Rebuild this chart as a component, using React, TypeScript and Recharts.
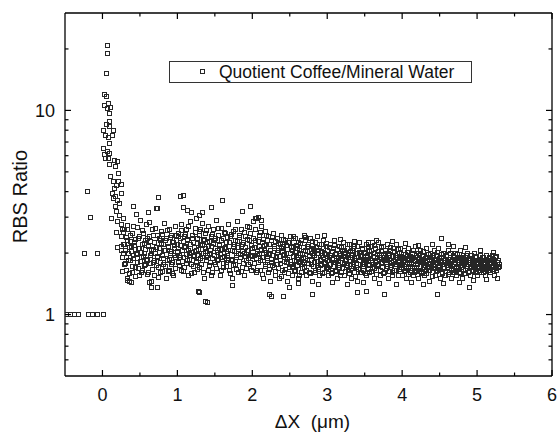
import React from "react";
import {
  ScatterChart,
  Scatter,
  XAxis,
  YAxis,
  ReferenceLine,
} from "recharts";

// chart box and plot frame
const W = 558;
const H = 432;
const PLOT_TOP = 13;
const PLOT_RIGHT = 552;
const FONT = "'Liberation Sans', Arial, Helvetica, sans-serif";
const INK = "#000";
const MARK = "#262626";

// axis ticks
const xTicks = [0, 0.5, 1, 1.5, 2, 2.5, 3, 3.5, 4, 4.5, 5, 5.5, 6];
const xMajor = [0, 1, 2, 3, 4, 5, 6];
const yTicks = [0.6, 0.7, 0.8, 0.9, 1, 2, 3, 4, 5, 6, 7, 8, 9, 10, 20];
const yMajor = [1, 10];

// points left of the interface
const leadPoints = [
  [-0.48, 1], [-0.42, 1], [-0.37, 1], [-0.32, 1],
  [-0.19, 1], [-0.13, 1], [-0.06, 1], [0.01, 1],
  [-0.2, 4.0], [-0.16, 3.0], [-0.24, 2.0], [-0.06, 2.0],
];

// the peak just after x = 0
const peakPoints = [
  [0.067, 20.8], [0.063, 19.0], [0.053, 15.2], [0.023, 12.0], [0.058, 11.7],
  [0.08, 10.8], [0.027, 10.6], [0.11, 10.3], [0.07, 10.2], [0.09, 9.7],
  [0.1, 8.8], [0.06, 8.5], [0.147, 8.0], [0.02, 8.0], [0.09, 8.3],
  [0.04, 7.5], [0.075, 7.4], [0.135, 7.5], [0.093, 6.85], [0.013, 6.5],
  [0.065, 6.3], [0.09, 6.15], [0.03, 6.1], [0.085, 5.8], [0.045, 5.8],
  [0.16, 5.7], [0.18, 5.3], [0.2, 5.6], [0.1, 5.45], [0.17, 5.3],
  [0.215, 4.9], [0.11, 4.75], [0.147, 4.5], [0.22, 4.5], [0.25, 4.35],
  [0.19, 4.3], [0.16, 4.15], [0.13, 3.9], [0.18, 3.8], [0.26, 3.9],
  [0.15, 3.7], [0.2, 3.6], [0.23, 3.5], [0.18, 3.4], [0.125, 2.94],
  [0.19, 3.2], [0.23, 3.05], [0.28, 2.95], [0.2, 2.85], [0.26, 2.75],
  [0.19, 2.53], [0.27, 2.6], [0.33, 2.72], [0.205, 2.14], [0.25, 2.15],
];

// plateau, 0.26 - 0.99
const bandA = [
  [0.26, 2.4], [0.27, 1.9], [0.28, 2.2], [0.29, 1.75], [0.3, 2.6], [0.31, 2.05],
  [0.32, 1.65], [0.33, 2.3], [0.34, 1.5], [0.35, 2.0], [0.36, 1.45], [0.37, 2.45],
  [0.38, 1.85], [0.39, 2.15], [0.4, 1.6], [0.41, 2.7], [0.42, 1.95], [0.43, 2.25],
  [0.44, 1.7], [0.45, 3.1], [0.46, 2.0], [0.47, 1.8], [0.48, 2.35], [0.49, 1.55],
  [0.5, 2.1], [0.51, 2.9], [0.52, 1.9], [0.53, 2.2], [0.54, 1.65], [0.55, 2.5],
  [0.56, 2.0], [0.57, 1.75], [0.58, 2.3], [0.59, 2.75], [0.6, 1.85], [0.61, 2.15],
  [0.62, 1.6], [0.63, 2.4], [0.64, 1.95], [0.65, 1.45], [0.66, 2.05], [0.67, 2.6],
  [0.68, 1.8], [0.69, 2.25], [0.7, 1.55], [0.71, 2.0], [0.72, 3.3], [0.73, 1.9],
  [0.74, 2.45], [0.75, 1.7], [0.76, 2.1], [0.77, 2.3], [0.78, 1.6], [0.79, 2.55],
  [0.8, 1.95], [0.81, 2.2], [0.82, 1.75], [0.83, 2.8], [0.84, 2.05], [0.85, 1.5],
  [0.86, 2.35], [0.87, 1.85], [0.88, 2.15], [0.89, 2.6], [0.9, 1.65], [0.91, 2.0],
  [0.92, 2.45], [0.93, 1.8], [0.94, 2.25], [0.95, 1.55], [0.96, 2.1], [0.97, 2.7],
  [0.98, 1.9], [0.99, 2.3],
];
const bandA2 = [
  [0.255, 2.07], [0.265, 1.63], [0.275, 2.53], [0.285, 1.98], [0.295, 2.21], [0.305, 1.77],
  [0.315, 2.38], [0.325, 1.91], [0.335, 2.62], [0.345, 1.83], [0.355, 2.13], [0.365, 1.58],
  [0.375, 2.27], [0.385, 2.04], [0.395, 1.72], [0.405, 2.49], [0.415, 1.88], [0.425, 2.17],
  [0.435, 1.53], [0.445, 2.33], [0.455, 1.96], [0.465, 2.68], [0.475, 1.69], [0.485, 2.11],
  [0.495, 2.42], [0.505, 1.81], [0.515, 2.02], [0.525, 1.61], [0.535, 2.57], [0.545, 1.93],
  [0.555, 2.24], [0.565, 1.73], [0.575, 2.08], [0.585, 1.87], [0.595, 2.36], [0.605, 1.57],
  [0.615, 2.19], [0.625, 2.83], [0.635, 1.78], [0.645, 2.29], [0.655, 1.99], [0.665, 1.67],
  [0.675, 2.43], [0.685, 2.09], [0.695, 1.84], [0.705, 2.64], [0.715, 1.74], [0.725, 2.14],
  [0.735, 1.92], [0.745, 1.52], [0.755, 2.37], [0.765, 2.01], [0.775, 1.79], [0.785, 2.22],
  [0.795, 1.63], [0.805, 2.47], [0.815, 1.89], [0.825, 2.06], [0.835, 1.71], [0.845, 2.31],
  [0.855, 1.97], [0.865, 2.58], [0.875, 1.62], [0.885, 2.12], [0.895, 1.86], [0.905, 2.39],
  [0.915, 1.76], [0.925, 2.03], [0.935, 1.58], [0.945, 2.26], [0.955, 1.94], [0.965, 2.18],
  [0.975, 1.68], [0.985, 2.44], [0.995, 2.01],
];

// 1.00 - 1.99
const bandB = [
  [1.0, 2.2], [1.01, 1.8], [1.02, 2.5], [1.03, 1.95], [1.04, 2.35], [1.05, 1.65],
  [1.06, 2.75], [1.07, 2.05], [1.08, 1.9], [1.09, 2.4], [1.1, 1.7], [1.11, 2.15],
  [1.12, 2.6], [1.13, 1.85], [1.14, 2.3], [1.15, 1.55], [1.16, 2.0], [1.17, 2.85],
  [1.18, 2.1], [1.19, 1.75], [1.2, 2.45], [1.21, 1.95], [1.22, 2.25], [1.23, 1.6],
  [1.24, 2.65], [1.25, 2.05], [1.26, 1.8], [1.27, 2.35], [1.28, 1.95], [1.29, 2.55],
  [1.3, 1.7], [1.31, 2.2], [1.32, 2.0], [1.33, 2.8], [1.34, 1.85], [1.35, 2.3],
  [1.36, 1.5], [1.37, 2.1], [1.38, 2.5], [1.39, 1.9], [1.4, 2.25], [1.41, 1.65],
  [1.42, 2.7], [1.43, 2.0], [1.44, 1.8], [1.45, 2.4], [1.46, 2.15], [1.47, 1.6],
  [1.48, 2.6], [1.49, 1.95], [1.5, 2.3], [1.51, 1.75], [1.52, 2.9], [1.53, 2.05],
  [1.54, 1.85], [1.55, 2.45], [1.56, 2.2], [1.57, 1.55], [1.58, 2.0], [1.59, 2.65],
  [1.6, 1.9], [1.61, 2.35], [1.62, 1.7], [1.63, 2.1], [1.64, 2.5], [1.65, 1.8],
  [1.66, 2.25], [1.67, 1.95], [1.68, 2.75], [1.69, 1.65], [1.7, 2.15], [1.71, 2.4],
  [1.72, 1.85], [1.73, 2.05], [1.74, 1.5], [1.75, 2.55], [1.76, 2.2], [1.77, 1.75],
  [1.78, 2.3], [1.79, 1.95], [1.8, 2.85], [1.81, 2.0], [1.82, 1.6], [1.83, 2.45],
  [1.84, 1.9], [1.85, 2.15], [1.86, 2.6], [1.87, 1.7], [1.88, 2.25], [1.89, 2.0],
  [1.9, 1.55], [1.91, 2.4], [1.92, 1.85], [1.93, 2.7], [1.94, 2.05], [1.95, 1.75],
  [1.96, 2.3], [1.97, 1.95], [1.98, 2.5], [1.99, 1.65],
];
const bandB2 = [
  [1.005, 2.03], [1.015, 2.41], [1.025, 1.74], [1.035, 2.17], [1.045, 1.91], [1.055, 2.58],
  [1.065, 1.82], [1.075, 2.27], [1.085, 1.63], [1.095, 2.12], [1.105, 2.46], [1.115, 1.96],
  [1.125, 1.77], [1.135, 2.33], [1.145, 2.07], [1.155, 2.69], [1.165, 1.87], [1.175, 2.21],
  [1.185, 1.58], [1.195, 2.01], [1.205, 2.37], [1.215, 1.72], [1.225, 2.14], [1.235, 1.93],
  [1.245, 2.52], [1.255, 1.81], [1.265, 2.24], [1.275, 1.67], [1.285, 2.09], [1.295, 2.43],
  [1.305, 1.89], [1.315, 2.62], [1.325, 1.76], [1.335, 2.18], [1.345, 1.98], [1.355, 1.61],
  [1.365, 2.34], [1.375, 2.04], [1.385, 1.84], [1.395, 2.57], [1.405, 1.94], [1.415, 2.16],
  [1.425, 1.73], [1.435, 2.29], [1.445, 2.06], [1.455, 1.56], [1.465, 2.48], [1.475, 1.88],
  [1.485, 2.23], [1.495, 1.79], [1.505, 2.11], [1.515, 2.36], [1.525, 1.69], [1.535, 2.02],
  [1.545, 2.64], [1.555, 1.86], [1.565, 2.19], [1.575, 1.97], [1.585, 1.64], [1.595, 2.31],
  [1.605, 2.08], [1.615, 1.78], [1.625, 2.53], [1.635, 1.92], [1.645, 2.13], [1.655, 1.71],
  [1.665, 2.39], [1.675, 1.99], [1.685, 1.83], [1.695, 2.26], [1.705, 1.59], [1.715, 2.07],
  [1.725, 2.47], [1.735, 1.87], [1.745, 2.16], [1.755, 1.74], [1.765, 2.03], [1.775, 2.61],
  [1.785, 1.91], [1.795, 1.66], [1.805, 2.28], [1.815, 2.12], [1.825, 1.81], [1.835, 2.38],
  [1.845, 1.97], [1.855, 1.62], [1.865, 2.21], [1.875, 2.04], [1.885, 1.77], [1.895, 2.51],
  [1.905, 1.93], [1.915, 2.14], [1.925, 1.68], [1.935, 2.32], [1.945, 1.88], [1.955, 2.06],
  [1.965, 2.67], [1.975, 1.79], [1.985, 2.18], [1.995, 1.94],
];

// 2.00 - 2.99
const bandC = [
  [2.0, 2.1], [2.01, 1.7], [2.02, 2.85], [2.03, 1.95], [2.04, 2.3], [2.05, 1.6],
  [2.06, 2.95], [2.07, 2.0], [2.08, 1.8], [2.09, 2.45], [2.1, 2.15], [2.11, 1.65],
  [2.12, 2.7], [2.13, 1.9], [2.14, 2.25], [2.15, 1.5], [2.16, 2.05], [2.17, 2.55],
  [2.18, 1.75], [2.19, 2.2], [2.2, 1.85], [2.21, 2.4], [2.22, 1.6], [2.23, 2.0],
  [2.24, 1.45], [2.25, 2.3], [2.26, 1.8], [2.27, 1.95], [2.28, 2.5], [2.29, 1.7],
  [2.3, 2.1], [2.31, 1.55], [2.32, 1.9], [2.33, 2.35], [2.34, 1.75], [2.35, 2.05],
  [2.36, 1.5], [2.37, 2.2], [2.38, 1.85], [2.39, 2.45], [2.4, 1.65], [2.41, 1.95],
  [2.42, 2.15], [2.43, 1.6], [2.44, 2.3], [2.45, 1.8], [2.46, 2.0], [2.47, 1.45],
  [2.48, 2.25], [2.49, 1.7], [2.5, 1.9], [2.51, 2.4], [2.52, 1.75], [2.53, 2.05],
  [2.54, 1.55], [2.55, 2.15], [2.56, 1.85], [2.57, 2.35], [2.58, 1.65], [2.59, 1.95],
  [2.6, 2.1], [2.61, 1.5], [2.62, 2.25], [2.63, 1.8], [2.64, 2.0], [2.65, 1.6],
  [2.66, 2.3], [2.67, 1.75], [2.68, 1.9], [2.69, 2.45], [2.7, 1.7], [2.71, 2.05],
  [2.72, 1.55], [2.73, 2.15], [2.74, 1.85], [2.75, 2.2], [2.76, 1.6], [2.77, 1.95],
  [2.78, 2.35], [2.79, 1.75], [2.8, 2.0], [2.81, 1.45], [2.82, 2.1], [2.83, 1.8],
  [2.84, 2.25], [2.85, 1.65], [2.86, 1.9], [2.87, 2.4], [2.88, 1.7], [2.89, 2.05],
  [2.9, 1.55], [2.91, 1.85], [2.92, 2.2], [2.93, 1.75], [2.94, 1.95], [2.95, 2.3],
  [2.96, 1.6], [2.97, 2.0], [2.98, 1.8], [2.99, 2.15],
];
const bandC2 = [
  [2.005, 1.93], [2.015, 2.37], [2.025, 1.77], [2.035, 2.14], [2.045, 2.62], [2.055, 1.88],
  [2.065, 2.03], [2.075, 1.64], [2.085, 2.28], [2.095, 1.96], [2.105, 2.51], [2.115, 1.83],
  [2.125, 2.09], [2.135, 1.57], [2.145, 2.33], [2.155, 1.91], [2.165, 2.17], [2.175, 1.72],
  [2.185, 2.02], [2.195, 2.43], [2.205, 1.79], [2.215, 1.97], [2.225, 2.21], [2.235, 1.66],
  [2.245, 2.06], [2.255, 1.86], [2.265, 2.38], [2.275, 1.73], [2.285, 1.94], [2.295, 2.16],
  [2.305, 1.62], [2.315, 2.27], [2.325, 1.84], [2.335, 2.01], [2.345, 1.69], [2.355, 2.22],
  [2.365, 1.92], [2.375, 1.78], [2.385, 2.11], [2.395, 1.54], [2.405, 2.04], [2.415, 2.32],
  [2.425, 1.81], [2.435, 1.96], [2.445, 1.67], [2.455, 2.18], [2.465, 1.87], [2.475, 2.08],
  [2.485, 1.59], [2.495, 2.26], [2.505, 1.76], [2.515, 1.99], [2.525, 2.13], [2.535, 1.71],
  [2.545, 1.93], [2.555, 2.36], [2.565, 1.63], [2.575, 2.02], [2.585, 1.82], [2.595, 2.19],
  [2.605, 1.74], [2.615, 1.91], [2.625, 2.07], [2.635, 1.56], [2.645, 2.24], [2.655, 1.86],
  [2.665, 1.97], [2.675, 1.68], [2.685, 2.12], [2.695, 1.79], [2.705, 2.31], [2.715, 1.89],
  [2.725, 1.64], [2.735, 2.03], [2.745, 1.77], [2.755, 2.16], [2.765, 1.92], [2.775, 1.58],
  [2.785, 2.09], [2.795, 1.83], [2.805, 2.27], [2.815, 1.72], [2.825, 1.94], [2.835, 2.06],
  [2.845, 1.61], [2.855, 2.14], [2.865, 1.81], [2.875, 1.98], [2.885, 1.67], [2.895, 2.21],
  [2.905, 1.87], [2.915, 1.74], [2.925, 2.04], [2.935, 1.59], [2.945, 1.91], [2.955, 2.11],
  [2.965, 1.78], [2.975, 1.96], [2.985, 1.69], [2.995, 2.23],
];

// 3.00 - 3.99
const bandD = [
  [3.0, 1.7], [3.01, 2.05], [3.02, 1.55], [3.03, 1.9], [3.04, 2.2], [3.05, 1.75],
  [3.06, 1.95], [3.07, 1.6], [3.08, 2.1], [3.09, 1.8], [3.1, 2.3], [3.11, 1.65],
  [3.12, 1.85], [3.13, 2.0], [3.14, 1.5], [3.15, 1.9], [3.16, 2.15], [3.17, 1.7],
  [3.18, 1.95], [3.19, 1.6], [3.2, 2.05], [3.21, 1.8], [3.22, 2.25], [3.23, 1.55],
  [3.24, 1.85], [3.25, 2.0], [3.26, 1.7], [3.27, 2.1], [3.28, 1.65], [3.29, 1.9],
  [3.3, 2.2], [3.31, 1.75], [3.32, 1.95], [3.33, 1.5], [3.34, 2.05], [3.35, 1.8],
  [3.36, 1.6], [3.37, 2.15], [3.38, 1.85], [3.39, 1.7], [3.4, 2.0], [3.41, 1.45],
  [3.42, 1.9], [3.43, 2.25], [3.44, 1.75], [3.45, 1.95], [3.46, 1.6], [3.47, 2.1],
  [3.48, 1.8], [3.49, 1.65], [3.5, 2.0], [3.51, 1.85], [3.52, 2.2], [3.53, 1.55],
  [3.54, 1.9], [3.55, 1.75], [3.56, 2.05], [3.57, 1.6], [3.58, 1.95], [3.59, 2.15],
  [3.6, 1.7], [3.61, 1.85], [3.62, 2.0], [3.63, 1.5], [3.64, 1.8], [3.65, 2.1],
  [3.66, 1.65], [3.67, 1.9], [3.68, 2.25], [3.69, 1.75], [3.7, 1.95], [3.71, 1.55],
  [3.72, 2.05], [3.73, 1.8], [3.74, 1.7], [3.75, 2.15], [3.76, 1.6], [3.77, 1.9],
  [3.78, 2.0], [3.79, 1.75], [3.8, 1.85], [3.81, 2.2], [3.82, 1.5], [3.83, 1.95],
  [3.84, 1.7], [3.85, 2.05], [3.86, 1.8], [3.87, 1.6], [3.88, 2.1], [3.89, 1.85],
  [3.9, 1.65], [3.91, 1.95], [3.92, 2.2], [3.93, 1.75], [3.94, 1.9], [3.95, 1.55],
  [3.96, 2.0], [3.97, 1.8], [3.98, 2.1], [3.99, 1.7],
];
const bandD2 = [
  [3.005, 1.83], [3.015, 1.66], [3.025, 2.12], [3.035, 1.76], [3.045, 1.94], [3.055, 1.58],
  [3.065, 2.03], [3.075, 1.87], [3.085, 1.71], [3.095, 2.17], [3.105, 1.79], [3.115, 1.97],
  [3.125, 1.62], [3.135, 2.08], [3.145, 1.84], [3.155, 1.73], [3.165, 1.99], [3.175, 1.56],
  [3.185, 1.89], [3.195, 2.14], [3.205, 1.68], [3.215, 1.93], [3.225, 1.77], [3.235, 2.06],
  [3.245, 1.63], [3.255, 1.86], [3.265, 2.21], [3.275, 1.74], [3.285, 1.96], [3.295, 1.59],
  [3.305, 1.82], [3.315, 2.04], [3.325, 1.69], [3.335, 1.91], [3.345, 2.11], [3.355, 1.72],
  [3.365, 1.88], [3.375, 1.54], [3.385, 1.98], [3.395, 1.78], [3.405, 2.16], [3.415, 1.67],
  [3.425, 1.85], [3.435, 2.02], [3.445, 1.61], [3.455, 1.93], [3.465, 1.76], [3.475, 2.09],
  [3.485, 1.71], [3.495, 1.87], [3.505, 1.58], [3.515, 2.01], [3.525, 1.81], [3.535, 1.95],
  [3.545, 1.66], [3.555, 2.13], [3.565, 1.74], [3.575, 1.89], [3.585, 1.63], [3.595, 2.06],
  [3.605, 1.79], [3.615, 1.92], [3.625, 1.69], [3.635, 2.18], [3.645, 1.84], [3.655, 1.57],
  [3.665, 1.97], [3.675, 1.73], [3.685, 2.04], [3.695, 1.86], [3.705, 1.64], [3.715, 1.91],
  [3.725, 2.12], [3.735, 1.77], [3.745, 1.94], [3.755, 1.59], [3.765, 1.83], [3.775, 2.07],
  [3.785, 1.68], [3.795, 1.88], [3.805, 1.72], [3.815, 1.99], [3.825, 1.62], [3.835, 1.86],
  [3.845, 2.14], [3.855, 1.74], [3.865, 1.93], [3.875, 1.56], [3.885, 1.81], [3.895, 2.03],
  [3.905, 1.71], [3.915, 1.87], [3.925, 1.64], [3.935, 1.98], [3.945, 1.79], [3.955, 2.09],
  [3.965, 1.67], [3.975, 1.92], [3.985, 1.76], [3.995, 1.89],
];

// 4.00 - 5.30
const bandE = [
  [4.0, 1.9], [4.01, 1.55], [4.02, 1.8], [4.03, 2.05], [4.04, 1.65], [4.05, 1.85],
  [4.06, 1.5], [4.07, 1.95], [4.08, 1.7], [4.09, 2.1], [4.1, 1.75], [4.11, 1.6],
  [4.12, 1.9], [4.13, 1.8], [4.14, 2.0], [4.15, 1.55], [4.16, 1.85], [4.17, 1.7],
  [4.18, 2.15], [4.19, 1.65], [4.2, 1.9], [4.21, 1.75], [4.22, 1.5], [4.23, 1.95],
  [4.24, 1.8], [4.25, 2.05], [4.26, 1.6], [4.27, 1.85], [4.28, 1.7], [4.29, 1.95],
  [4.3, 1.55], [4.31, 1.8], [4.32, 2.1], [4.33, 1.65], [4.34, 1.9], [4.35, 1.75],
  [4.36, 1.45], [4.37, 1.85], [4.38, 2.0], [4.39, 1.7], [4.4, 1.6], [4.41, 1.9],
  [4.42, 1.8], [4.43, 2.05], [4.44, 1.55], [4.45, 1.75], [4.46, 1.95], [4.47, 1.65],
  [4.48, 1.85], [4.49, 2.1], [4.5, 1.7], [4.51, 1.5], [4.52, 1.9], [4.53, 1.8],
  [4.54, 1.6], [4.55, 2.0], [4.56, 1.75], [4.57, 1.85], [4.58, 1.55], [4.59, 1.95],
  [4.6, 1.7], [4.61, 1.8], [4.62, 2.05], [4.63, 1.6], [4.64, 1.9], [4.65, 1.75],
  [4.66, 1.5], [4.67, 1.85], [4.68, 1.95], [4.69, 1.65], [4.7, 1.8], [4.71, 2.0],
  [4.72, 1.7], [4.73, 1.55], [4.74, 1.9], [4.75, 1.75], [4.76, 1.85], [4.77, 1.6],
  [4.78, 2.05], [4.79, 1.7], [4.8, 1.8], [4.81, 1.5], [4.82, 1.95], [4.83, 1.75],
  [4.84, 1.65], [4.85, 1.9], [4.86, 1.8], [4.87, 2.0], [4.88, 1.6], [4.89, 1.75],
  [4.9, 1.85], [4.91, 1.55], [4.92, 1.95], [4.93, 1.7], [4.94, 1.8], [4.95, 1.65],
  [4.96, 2.0], [4.97, 1.75], [4.98, 1.6], [4.99, 1.9], [5.0, 1.8], [5.01, 1.55],
  [5.02, 1.85], [5.03, 1.7], [5.04, 1.95], [5.05, 1.65], [5.06, 1.8], [5.07, 1.9],
  [5.08, 1.6], [5.09, 1.75], [5.1, 1.85], [5.11, 1.55], [5.12, 1.95], [5.13, 1.7],
  [5.14, 1.8], [5.15, 1.65], [5.16, 1.9], [5.17, 1.75], [5.18, 1.6], [5.19, 1.85],
  [5.2, 1.7], [5.21, 1.95], [5.22, 1.8], [5.23, 1.55], [5.24, 1.75], [5.25, 1.9],
  [5.26, 1.65], [5.27, 1.8], [5.28, 1.7], [5.29, 1.85], [5.3, 1.75],
];
const bandE2 = [
  [4.005, 1.73], [4.015, 1.91], [4.025, 1.62], [4.035, 1.84], [4.045, 1.97], [4.055, 1.68],
  [4.065, 1.79], [4.075, 2.02], [4.085, 1.57], [4.095, 1.86], [4.105, 1.93], [4.115, 1.71],
  [4.125, 1.64], [4.135, 1.88], [4.145, 1.76], [4.155, 2.07], [4.165, 1.61], [4.175, 1.82],
  [4.185, 1.94], [4.195, 1.69], [4.205, 1.78], [4.215, 1.99], [4.225, 1.63], [4.235, 1.87],
  [4.245, 1.72], [4.255, 1.58], [4.265, 1.92], [4.275, 1.81], [4.285, 2.04], [4.295, 1.67],
  [4.305, 1.74], [4.315, 1.89], [4.325, 1.59], [4.335, 1.83], [4.345, 1.96], [4.355, 1.71],
  [4.365, 1.64], [4.375, 1.91], [4.385, 1.77], [4.395, 1.86], [4.405, 1.53], [4.415, 1.73],
  [4.425, 1.95], [4.435, 1.68], [4.445, 1.84], [4.455, 1.62], [4.465, 1.79], [4.475, 2.01],
  [4.485, 1.72], [4.495, 1.88], [4.505, 1.66], [4.515, 1.81], [4.525, 1.97], [4.535, 1.58],
  [4.545, 1.76], [4.555, 1.89], [4.565, 1.69], [4.575, 1.83], [4.585, 1.63], [4.595, 1.92],
  [4.605, 1.74], [4.615, 1.86], [4.625, 1.57], [4.635, 1.78], [4.645, 1.98], [4.655, 1.67],
  [4.665, 1.82], [4.675, 1.71], [4.685, 1.93], [4.695, 1.61], [4.705, 1.76], [4.715, 1.87],
  [4.725, 1.64], [4.735, 1.84], [4.745, 1.96], [4.755, 1.69], [4.765, 1.79], [4.775, 1.58],
  [4.785, 1.88], [4.795, 1.73], [4.805, 1.91], [4.815, 1.66], [4.825, 1.77], [4.835, 1.85],
  [4.845, 1.59], [4.855, 1.72], [4.865, 1.94], [4.875, 1.68], [4.885, 1.83], [4.895, 1.63],
  [4.905, 1.79], [4.915, 1.89], [4.925, 1.71], [4.935, 1.62], [4.945, 1.86], [4.955, 1.74],
  [4.965, 1.81], [4.975, 1.92], [4.985, 1.67], [4.995, 1.77], [5.005, 1.84], [5.015, 1.69],
  [5.025, 1.76], [5.035, 1.61], [5.045, 1.87], [5.055, 1.73], [5.065, 1.82], [5.075, 1.66],
  [5.085, 1.91], [5.095, 1.71], [5.105, 1.79], [5.115, 1.63], [5.125, 1.86], [5.135, 1.74],
  [5.145, 1.68], [5.155, 1.83], [5.165, 1.77], [5.175, 1.89], [5.185, 1.64], [5.195, 1.78],
  [5.205, 1.72], [5.215, 1.86], [5.225, 1.67], [5.235, 1.81], [5.245, 1.73], [5.255, 1.92],
  [5.265, 1.69], [5.275, 1.76], [5.285, 1.83], [5.295, 1.71],
];

// ragged upper and lower edge of the band past x = 2.5
const bandEdges = [
  [2.55, 2.42], [2.62, 1.42], [2.71, 2.38], [2.88, 1.4], [2.97, 2.45], [3.07, 1.43],
  [3.18, 2.32], [3.27, 1.41], [3.36, 2.28], [3.48, 1.44], [3.66, 2.3], [3.7, 1.42],
  [3.87, 2.27], [3.92, 1.4], [4.04, 2.22], [4.12, 1.43], [4.22, 2.18], [4.29, 1.41],
  [4.41, 2.2], [4.55, 1.42], [4.68, 2.16], [4.76, 1.44], [4.84, 2.14], [4.95, 1.46],
  [5.05, 2.05], [5.13, 1.48], [5.22, 2.02], [5.27, 1.5],
];

// scattered points above and below the band
const outliers = [
  [0.42, 3.4], [0.61, 3.15], [0.73, 3.3], [0.75, 3.75], [1.04, 3.8], [1.08, 3.85],
  [1.08, 3.35], [1.14, 3.25], [1.19, 3.15], [1.25, 2.97], [1.29, 3.05], [1.33, 3.15],
  [1.45, 3.35], [1.6, 3.6], [1.87, 3.2], [1.98, 3.4], [2.04, 2.95], [2.08, 3.0],
  [2.12, 2.9], [3.55, 2.25], [3.6, 2.25], [4.52, 2.36], [4.62, 2.2],
  [0.34, 1.47], [0.39, 1.44], [0.63, 1.44], [0.66, 1.36], [0.73, 1.36], [1.28, 1.29],
  [1.29, 1.28], [1.38, 1.16], [1.4, 1.14], [1.73, 1.39], [2.23, 1.25], [2.25, 1.22],
  [2.41, 1.22], [2.5, 1.36], [2.8, 1.25], [3.41, 1.28], [3.53, 1.3], [3.76, 1.25],
  [4.47, 1.25], [4.9, 1.36],
];

const toPoints = (rows: number[][]) => rows.map(([x, y]) => ({ x, y }));
const allPoints = [
  ...toPoints(leadPoints),
  ...toPoints(peakPoints),
  ...toPoints(bandA),
  ...toPoints(bandA2),
  ...toPoints(bandB),
  ...toPoints(bandB2),
  ...toPoints(bandC),
  ...toPoints(bandC2),
  ...toPoints(bandD),
  ...toPoints(bandD2),
  ...toPoints(bandE),
  ...toPoints(bandE2),
  ...toPoints(bandEdges),
  ...toPoints(outliers),
];

// hollow square, snapped to the pixel grid so the outline stays crisp
const OpenSquare = (props: any) => {
  const { cx, cy } = props;
  if (cx == null || cy == null) return null;
  return (
    <rect
      x={Math.round(cx - 2.5) + 0.5}
      y={Math.round(cy - 2.5) + 0.5}
      width={4}
      height={4}
      fill="none"
      stroke={MARK}
      strokeWidth={1}
    />
  );
};

// ticks point inwards, mirrored on top and right
const XTick = (props: any) => {
  const { x, y, payload } = props;
  const v = payload.value;
  const major = xMajor.includes(v);
  const len = major ? 6 : 3.5;
  return (
    <g>
      <line x1={x} x2={x} y1={y} y2={y - len} stroke={INK} strokeWidth={1.2} />
      <line x1={x} x2={x} y1={PLOT_TOP} y2={PLOT_TOP + len} stroke={INK} strokeWidth={1.2} />
      {major && (
        <text x={x} y={y + 25} textAnchor="middle" fontSize={18} fontFamily={FONT} fill="#111">
          {v}
        </text>
      )}
    </g>
  );
};

const YTick = (props: any) => {
  const { x, y, payload } = props;
  const v = payload.value;
  const major = yMajor.includes(v);
  const len = major ? 6 : 3.5;
  return (
    <g>
      <line x1={x} x2={x + len} y1={y} y2={y} stroke={INK} strokeWidth={1.2} />
      <line x1={PLOT_RIGHT} x2={PLOT_RIGHT - len} y1={y} y2={y} stroke={INK} strokeWidth={1.2} />
      {major && (
        <text x={x - 10} y={y + 6.5} textAnchor="end" fontSize={18} fontFamily={FONT} fill="#111">
          {v}
        </text>
      )}
    </g>
  );
};

const YLabel = (props: any) => {
  const { viewBox } = props;
  const cx = viewBox.x + 20;
  const cy = viewBox.y + viewBox.height / 2 + 2;
  return (
    <text
      x={cx}
      y={cy}
      transform={`rotate(-90, ${cx}, ${cy})`}
      textAnchor="middle"
      dominantBaseline="central"
      fontSize={20}
      fontFamily={FONT}
      fill="#111"
    >
      RBS Ratio
    </text>
  );
};

const XLabel = (props: any) => {
  const { viewBox } = props;
  return (
    <text
      x={viewBox.x + viewBox.width / 2 + 4}
      y={viewBox.y + 52}
      textAnchor="middle"
      fontSize={19}
      fontFamily={FONT}
      fill="#111"
      style={{ whiteSpace: "pre" }}
    >
      {"\u0394X  (\u03bcm)"}
    </text>
  );
};

function LegendBox() {
  return (
    <div
      style={{
        position: "absolute",
        left: 169,
        top: 61,
        width: 303,
        height: 22,
        boxSizing: "border-box",
        border: "1px solid #333",
        background: "#fff",
        fontFamily: FONT,
        fontSize: 17.5,
        lineHeight: "20px",
        color: "#111",
        whiteSpace: "nowrap",
      }}
    >
      <svg width={10} height={10} style={{ position: "absolute", left: 28, top: 5 }}>
        <rect x={2.5} y={2.5} width={4} height={4} fill="none" stroke={MARK} strokeWidth={1} />
      </svg>
      <span style={{ position: "absolute", left: 49, top: 0 }}>Quotient Coffee/Mineral Water</span>
    </div>
  );
}

export default function App() {
  return (
    <div style={{ position: "absolute", left: 0, top: 0, width: W, height: H, background: "#fff", overflow: "hidden" }}>
      <ScatterChart width={W} height={H} margin={{ top: PLOT_TOP, right: W - PLOT_RIGHT, bottom: 0, left: 0 }}>
        <XAxis
          type="number"
          dataKey="x"
          domain={[-0.5, 6]}
          ticks={xTicks}
          interval={0}
          allowDataOverflow
          height={56}
          tickSize={0}
          tickMargin={0}
          tick={<XTick />}
          axisLine={{ stroke: INK, strokeWidth: 1.3 }}
          label={<XLabel />}
        />
        <YAxis
          type="number"
          dataKey="y"
          scale="log"
          domain={[0.5, 30]}
          ticks={yTicks}
          interval={0}
          allowDataOverflow
          width={65}
          tickSize={0}
          tickMargin={0}
          tick={<YTick />}
          axisLine={{ stroke: INK, strokeWidth: 1.3 }}
          label={<YLabel />}
        />
        <ReferenceLine y={30} stroke={INK} strokeWidth={1.3} />
        <ReferenceLine x={6} stroke={INK} strokeWidth={1.3} />
        <Scatter data={allPoints} shape={<OpenSquare />} isAnimationActive={false} />
      </ScatterChart>
      <LegendBox />
    </div>
  );
}
